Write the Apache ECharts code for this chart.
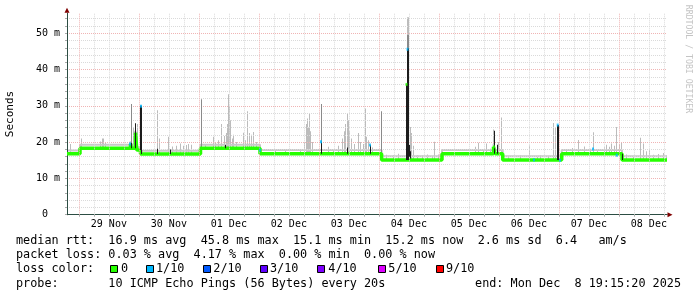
<!DOCTYPE html>
<html><head><meta charset="utf-8">
<script src="https://cdn.jsdelivr.net/npm/echarts@6/dist/echarts.min.js"></script>
<style>html,body{margin:0;padding:0;background:#fff}#c{width:697px;height:297px}</style>
</head><body><div id="c"></div>
<script>
// x unit: hours since 29 Nov 2025 00:00
const startHour = -4.7444;   // 28 Nov 19:15:20
const endHour = 235.2556;    // 08 Dec 19:15:20
const dayLabels = ['29 Nov','30 Nov','01 Dec','02 Dec','03 Dec','04 Dec','05 Dec','06 Dec','07 Dec','08 Dec'];
const dayLabelHours = [12,36,60,84,108,132,156,180,204,228];
const minorGridHours = [0,6,12,18,24,30,36,42,48,54,60,66,72,78,84,90,96,102,108,114,120,126,132,138,144,150,156,162,168,174,180,186,192,198,204,210,216,222,228,234];
const dayGridHours = [0,24,48,72,96,120,144,168,192,216];

// median rtt (ms): [hour, value] change points, value holds until next point
const medianSteps = [
  [-4.744,16.8],[0.46,18.3],[20.65,19.5],[21.06,18.3],[22.66,22.6],[23.18,17.8],[24.66,16.7],
  [48.66,18.3],[72.46,16.8],[121.1,15.1],[145.26,16.8],[165.86,18.7],[166.46,16.8],
  [169.54,15.1],[193.14,16.8],[217.26,15.1],[235.256,15.1]
];
// top of the thin smoke band hugging the median (ms)
const smokeBandTop = [
  [-4.744,17.7],[0.46,19.3],[20.65,20.2],[21.06,19.3],[22.66,23.2],[23.18,18.6],[24.66,17.6],
  [48.66,19.3],[72.46,17.8],[121.1,16.1],[145.26,17.8],[165.86,19.4],[166.46,17.8],
  [169.54,16.1],[193.14,17.8],[217.26,16.1],[235.256,16.1]
];
// light smoke: [hour, low ms, high ms]
const lightSmoke = [
  [-3.26,16.8,19.5],[1.14,18.3,21],[8.46,18.3,20.2],[9.26,18.3,21],[9.86,18.3,21],[10.46,18.3,20],
  [21.66,18.3,24.2],[22.06,18.3,23],[23.46,17.8,25],[31.54,16.8,28.8],[32.06,16.8,21],[35.66,16.8,21.5],
  [37.26,16.8,18.8],[38.86,16.8,19],[40.58,16.8,19.6],[41.66,16.8,19],[42.86,16.8,19.2],[43.78,16.8,19.5],
  [45.06,16.8,19.3],[50.46,18.3,19.5],[53.66,18.3,21.5],[54.46,18.3,20],[55.66,18.3,20.5],[56.86,18.3,25],
  [58.06,18.3,21.7],[58.86,18.3,22.5],[59.46,18.3,25],[59.86,18.3,33.2],[60.26,18.3,30],[60.66,18.3,26],
  [61.26,18.3,21],[61.78,18.3,22],[62.86,18.3,20],[65.78,18.3,22.6],[66.46,18.3,20.5],[67.38,18.3,28.5],
  [68.18,18.3,22.5],[69.14,18.3,22],[69.66,18.3,22.8],[70.86,18.3,20],[78.46,16.8,18],[82.46,16.8,17.8],
  [88.46,16.8,17.6],[90.06,16.8,20],[90.86,16.8,25],[91.46,16.8,26.5],[91.86,16.8,24],[92.26,16.8,27.8],
  [92.66,16.8,23],[93.26,16.8,20],[99.66,16.8,18.7],[101.66,16.8,18],[103.66,16.8,19],[105.26,16.8,21],
  [106.06,16.8,23],[106.66,16.8,25],[107.26,16.8,27.9],[107.66,16.8,26],[108.26,16.8,23],[108.86,16.8,21],
  [110.06,16.8,19.5],[111.78,16.8,22.5],[112.46,16.8,20],[113.66,16.8,19.5],[114.46,16.8,29.3],
  [115.14,16.8,21.5],[115.66,16.8,20.5],[117.26,16.8,18.5],[122.86,15.1,16.5],[125.66,15.1,16.4],
  [127.66,15.1,16.8],[131.46,15.1,54.4],[131.86,15.1,54.4],[132.66,15.1,24.2],[133.06,15.1,22.5],
  [133.66,15.1,19],[135.26,15.1,16.4],[137.26,15.1,16.3],[139.26,15.1,16.6],[141.26,15.1,16.2],
  [142.06,15.1,20.1],[143.66,15.1,16.6],[158.46,16.8,18.7],[159.78,16.8,19.8],[161.66,16.8,17.8],
  [163.14,16.8,19.6],[164.46,16.8,18.2],[165.78,16.8,23.5],[167.66,16.8,20],[168.86,16.8,26.8],
  [171.66,15.1,15.8],[176.46,15.1,16.3],[180.18,15.1,19.1],[183.26,15.1,16],[184.46,15.1,16.3],
  [187.66,15.1,16.2],[189.78,15.1,25.3],[190.46,15.1,24.2],[194.86,16.8,17.6],[197.26,16.8,18.4],
  [199.78,16.8,20.6],[202.06,16.8,18.8],[204.46,16.8,18.2],[205.78,16.8,22.7],[207.26,16.8,18],
  [210.06,16.8,18.6],[211.14,16.8,19.3],[212.06,16.8,18.7],[213.14,16.8,19.6],[214.06,16.8,19],
  [215.14,16.8,24.2],[216.06,16.8,19.4],[216.86,16.8,19.8],[218.86,15.1,16.6],[221.66,15.1,16.2],
  [224.46,15.1,21.2],[225.78,15.1,19.6],[226.86,15.1,17.5],[228.18,15.1,17.8],[229.66,15.1,16.5],
  [231.66,15.1,16.7],[233.78,15.1,17],[234.86,15.1,16.3]
];
// medium smoke
const midSmoke = [
  [20.86,19.8,30.5],[48.86,16.8,31.8],[96.86,20.2,30.5],[121.14,15.1,28.5],[131.46,15.1,49.5],[131.86,15.1,49.5]
];
// dark smoke
const darkSmoke = [
  [20.86,18.3,19.8],[22.46,18.3,25.2],[24.46,17.8,30],[24.86,16.7,30],[31.46,16.7,18.2],[36.46,16.7,18],
  [58.46,18.3,19.2],[96.86,16.8,20.2],[107.26,16.8,18.5],[116.46,16.8,19.2],
  [131.06,15.1,35.9],[131.46,15.1,45.8],[131.86,15.1,45.8],[132.26,16,19.2],[132.66,15.5,17.5],
  [166.06,16.8,23.1],[167.26,16.8,19.3],[191.46,15.1,24.7],[191.86,15.1,24.7],[217.26,15.1,16.8]
];
// loss marks on the median: [hour, ms, loss class index]
const lossMarks = [
  [20.46,19.5,1],[24.86,29.9,1],[72.46,17.8,1],[96.86,20.1,1],[116.46,19.2,1],[131.46,45.6,1],
  [131.06,35.9,0],[166.06,18.7,0],[182.06,15.1,1],[191.54,24.7,1],[192.46,15.0,1],[205.66,18.1,1],[215.14,16.4,1]
];
const lossLabels = ['0','1/10','2/10','3/10','4/10','5/10','9/10'];
const lossColors = ['#26ff00','#00b8ff','#0059ff','#5e00ff','#7e00ff','#dd00ff','#ff0000'];

const legendLine1 = 'median rtt:  16.9 ms avg  45.8 ms max  15.1 ms min  15.2 ms now  2.6 ms sd  6.4   am/s';
const legendLine2 = 'packet loss: 0.03 % avg  4.17 % max  0.00 % min  0.00 % now';
const legendLine3 = 'loss color:';
const legendLine4 = 'probe:       10 ICMP Echo Pings (56 Bytes) every 20s';
const legendEnd = 'end: Mon Dec  8 19:15:20 2025';

const MONO = '"DejaVu Sans Mono", monospace';
const GRID_C = '#dadada', MGRID_C = '#f0b4b4';

function barRenderer(color) {
  return function (params, api) {
    const top = api.coord([api.value(0), api.value(2)]);
    const bot = api.coord([api.value(0), api.value(1)]);
    return { type: 'rect',
      shape: { x: Math.floor(top[0]), y: top[1], width: 1, height: Math.max(1, bot[1] - top[1]) },
      style: { fill: color } };
  };
}

const chart = echarts.init(document.getElementById('c'), null, { renderer: 'canvas' });

const gridMarks = minorGridHours.map(h => ({
  xAxis: h,
  lineStyle: { color: dayGridHours.indexOf(h) >= 0 ? MGRID_C : GRID_C, type: [1, 1], width: 1 }
}));

// legend graphics
const LX = 16, FS = '11.8px ' + MONO;
const graphics = [
  { type: 'text', x: LX, y: 241, style: { text: legendLine1, font: FS, fill: '#000', verticalAlign: 'middle' } },
  { type: 'text', x: LX, y: 255, style: { text: legendLine2, font: FS, fill: '#000', verticalAlign: 'middle' } },
  { type: 'text', x: LX, y: 269, style: { text: legendLine3, font: FS, fill: '#000', verticalAlign: 'middle' } },
  { type: 'text', x: LX, y: 283.5, style: { text: legendLine4, font: FS, fill: '#000', verticalAlign: 'middle' } },
  { type: 'text', x: 681, y: 283.5, style: { text: legendEnd, font: FS, fill: '#000', align: 'right', verticalAlign: 'middle' } },
  { type: 'text', x: 688, y: 59, rotation: -Math.PI / 2,
    style: { text: 'RRDTOOL / TOBI OETIKER', font: '8.2px ' + MONO, fill: '#c4c4c4', align: 'center', verticalAlign: 'middle' } }
];
const boxX = [110, 146, 202.7, 260, 317.3, 377.7, 435.7];
const labX = [121, 156, 213.3, 270, 328.3, 388.3, 446];
lossLabels.forEach((lab, i) => {
  graphics.push({ type: 'rect', shape: { x: Math.round(boxX[i]) + 0.5, y: 265.5, width: 7, height: 7 },
    style: { fill: lossColors[i], stroke: '#000', lineWidth: 1 } });
  graphics.push({ type: 'text', x: labX[i], y: 269, style: { text: lab, font: FS, fill: '#000', verticalAlign: 'middle' } });
});

chart.setOption({
  animation: false,
  backgroundColor: '#ffffff',
  grid: { left: 67, right: 30, top: 13.3, bottom: 82.3, containLabel: false, outerBoundsMode: 'none' },
  xAxis: [
    { type: 'value', min: startHour, max: endHour, z: 3,
      axisLine: { show: true, onZero: false, lineStyle: { color: '#2c4d43', width: 1 } },
      axisTick: { show: true, customValues: minorGridHours, length: 2, lineStyle: { color: '#aaaaaa' } },
      splitLine: { show: false },
      axisLabel: { show: true, customValues: dayLabelHours, margin: 5, lineHeight: 10,
        fontFamily: MONO, fontSize: 10, color: '#000',
        formatter: v => { const i = dayLabelHours.indexOf(Math.round(v)); return i >= 0 ? dayLabels[i] : ''; } } },
    { type: 'value', min: startHour, max: endHour, position: 'bottom', z: 2,
      axisLine: { show: true, onZero: false, symbol: ['none', 'triangle'], symbolSize: [5, 5], symbolOffset: [0, 3],
        lineStyle: { color: '#7f0000', width: 1 } },
      axisTick: { show: false }, axisLabel: { show: false }, splitLine: { show: false } }
  ],
  yAxis: [
    { type: 'value', min: 0, max: 55.5, interval: 2, z: 3,
      name: 'Seconds', nameLocation: 'middle', nameGap: 51,
      nameTextStyle: { fontFamily: MONO, fontSize: 11, color: '#000' },
      axisLine: { show: true, onZero: false, lineStyle: { color: '#2c4d43', width: 1 } },
      axisTick: { show: true, length: 2, lineStyle: { color: '#aaaaaa' } },
      splitLine: { show: true, showMaxLine: false,
        lineStyle: { color: [MGRID_C, GRID_C, GRID_C, GRID_C, GRID_C], type: [1, 1], width: 1 } },
      axisLabel: { show: true, showMaxLabel: false, margin: 7, fontFamily: MONO, fontSize: 10, color: '#000',
        formatter: v => (v === 0 ? '0  ' : (Math.round(v) % 10 === 0 ? v + ' m' : '')) } },
    { type: 'value', min: 0, max: 55.5, position: 'left', z: 2,
      axisLine: { show: true, onZero: false, symbol: ['none', 'triangle'], symbolSize: [5, 5], symbolOffset: [0, 3],
        lineStyle: { color: '#7f0000', width: 1 } },
      axisTick: { show: false }, axisLabel: { show: false }, splitLine: { show: false } }
  ],
  graphic: graphics,
  series: [
    { type: 'line', name: 'grid', data: [[startHour, 0]], showSymbol: false, silent: true, z: 1,
      lineStyle: { opacity: 0 },
      markLine: { silent: true, symbol: ['none', 'none'], label: { show: false }, animation: false, data: gridMarks } },
    { type: 'line', name: 'smoke band', data: smokeBandTop, step: 'end', showSymbol: false, z: 2, silent: true,
      lineStyle: { color: '#c8c8c8', width: 2 } },
    { type: 'custom', name: 'smoke', data: lightSmoke, renderItem: barRenderer('#bcbcbc'), clip: true, z: 2, silent: true },
    { type: 'custom', name: 'smoke2', data: midSmoke, renderItem: barRenderer('#8a8a8a'), clip: true, z: 3, silent: true },
    { type: 'line', name: 'median rtt', data: medianSteps, step: 'end', showSymbol: false, z: 4, silent: true,
      lineStyle: { color: lossColors[0], width: 3.5 } },
    { type: 'custom', name: 'smoke3', data: darkSmoke, renderItem: barRenderer('#1c1c1c'), clip: true, z: 5, silent: true },
    { type: 'scatter', name: 'loss', data: lossMarks, symbol: 'rect', symbolSize: [2, 3], z: 6, silent: true,
      itemStyle: { color: p => lossColors[p.value[2]] } }
  ]
});
</script>
</body></html>
